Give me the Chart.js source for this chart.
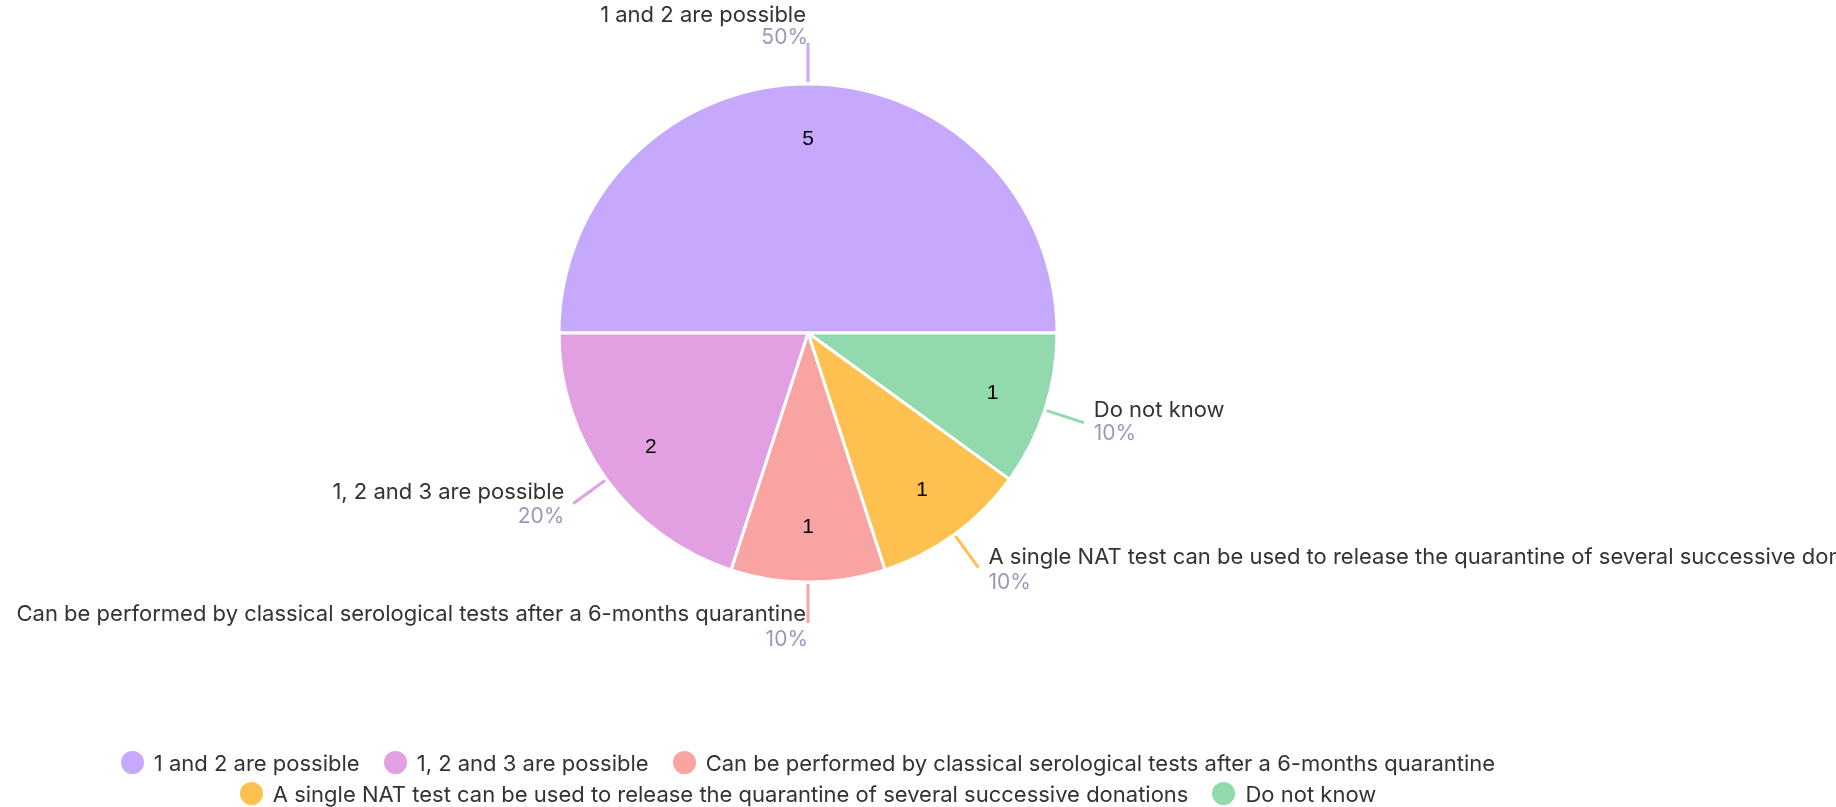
<!DOCTYPE html>
<html>
<head>
<meta charset="utf-8">
<title>Survey answers</title>
<script src="https://cdn.jsdelivr.net/npm/chart.js@4.4.1/dist/chart.umd.min.js"></script>
<style>
  html, body { margin: 0; padding: 0; background: #fff; overflow: hidden; }
  #wrap { width: 1836px; height: 807px; position: relative; }
  #legend {
    position: absolute; left: 0; top: 747px; width: 1616px;
    display: flex; flex-wrap: wrap; justify-content: center;
    font-family: Inter, sans-serif; font-size: 22px; color: #333;
  }
  #legend .item { display: flex; align-items: center; height: 31px; margin: 0 12px; white-space: nowrap; }
  #legend .dot { width: 23px; height: 23px; border-radius: 50%; margin-right: 10px; }
</style>
</head>
<body>
<div id="wrap">
  <canvas id="answersChart"></canvas>
  <div id="legend"></div>
</div>
<script>
// Answers, in the order the survey (and the legend) lists them
const categories = [
  '1 and 2 are possible',
  '1, 2 and 3 are possible',
  'Can be performed by classical serological tests after a 6-months quarantine',
  'A single NAT test can be used to release the quarantine of several successive donations',
  'Do not know'
];
const counts = [5, 2, 1, 1, 1];
const sliceColours = ['#c6a8fc', '#e2a0e2', '#faa3a3', '#fec150', '#93d9ae'];

// Slices go clockwise from 9 o'clock, so the pie needs a different order
const drawOrder = [0, 4, 3, 2, 1];

const total = counts.reduce((a, b) => a + b, 0);
const labelFont = 'Inter';

// Value inside each slice, plus leader line with answer and percentage outside
const sliceLabels = {
  id: 'sliceLabels',
  afterDatasetsDraw(chart) {
    const ctx = chart.ctx;
    const meta = chart.getDatasetMeta(0);
    meta.data.forEach((arc, i) => {
      const k = drawOrder[i];
      const p = arc.getProps(['x', 'y', 'startAngle', 'endAngle', 'outerRadius']);
      const mid = (p.startAngle + p.endAngle) / 2;
      const cos = Math.cos(mid);
      const sin = Math.sin(mid);

      ctx.save();
      ctx.font = '21px "Liberation Sans", Arial, sans-serif';
      ctx.fillStyle = '#000';
      ctx.textAlign = 'center';
      ctx.textBaseline = 'middle';
      const rIn = p.outerRadius * 0.78;
      ctx.fillText(String(counts[k]), p.x + cos * rIn, p.y + sin * rIn);

      // leader line
      const r0 = p.outerRadius + 2;
      const r1 = p.outerRadius + 41;
      const ex = p.x + cos * r1;
      const ey = p.y + sin * r1;
      ctx.strokeStyle = sliceColours[k];
      ctx.lineWidth = 3;
      ctx.beginPath();
      ctx.moveTo(p.x + cos * r0, p.y + sin * r0);
      ctx.lineTo(ex, ey);
      ctx.stroke();

      // text block
      let align, tx, px, ty, py;
      if (cos > 0.1) {
        align = 'left'; tx = ex + 10; px = ex + 10;
      } else if (cos < -0.1) {
        align = 'right'; tx = ex - 9; px = ex - 9;
      } else {
        align = 'right'; tx = ex - 2; px = ex;
      }
      if (sin < -0.9) {
        ty = ey - 28; py = ey - 5;
      } else {
        ty = ey - 13 + 4 * sin; py = ey + 9 + 8 * sin;
      }
      ctx.textAlign = align;
      ctx.font = '22px ' + labelFont;
      ctx.fillStyle = '#333';
      ctx.fillText(categories[k], tx, ty);
      ctx.font = '21px ' + labelFont;
      ctx.fillStyle = '#9a98b8';
      ctx.fillText(Math.round(counts[k] / total * 100) + '%', px, py);
      ctx.restore();
    });
  }
};

const ctx = document.getElementById('answersChart').getContext('2d');
const chart = new Chart(ctx, {
  type: 'pie',
  data: {
    labels: drawOrder.map(k => categories[k]),
    datasets: [{
      data: drawOrder.map(k => counts[k]),
      backgroundColor: drawOrder.map(k => sliceColours[k]),
      borderColor: '#ffffff',
      borderWidth: 3,
      radius: 249
    }]
  },
  options: {
    responsive: true,
    maintainAspectRatio: false,
    animation: false,
    events: [],
    rotation: -90,
    layout: {
      padding: { top: 84, right: 220, left: 0, bottom: 225 }
    },
    plugins: {
      tooltip: { enabled: false },
      legend: { display: false }
    }
  },
  plugins: [sliceLabels]
});

// HTML legend, built from the chart's own legend items, in survey order
const legendBox = document.getElementById('legend');
const items = Chart.overrides.pie.plugins.legend.labels.generateLabels(chart);
items.sort((a, b) => drawOrder[a.index] - drawOrder[b.index]);
items.forEach(item => {
  const el = document.createElement('div');
  el.className = 'item';
  const dot = document.createElement('span');
  dot.className = 'dot';
  dot.style.background = item.fillStyle;
  el.appendChild(dot);
  el.appendChild(document.createTextNode(item.text));
  legendBox.appendChild(el);
});
</script>
</body>
</html>
